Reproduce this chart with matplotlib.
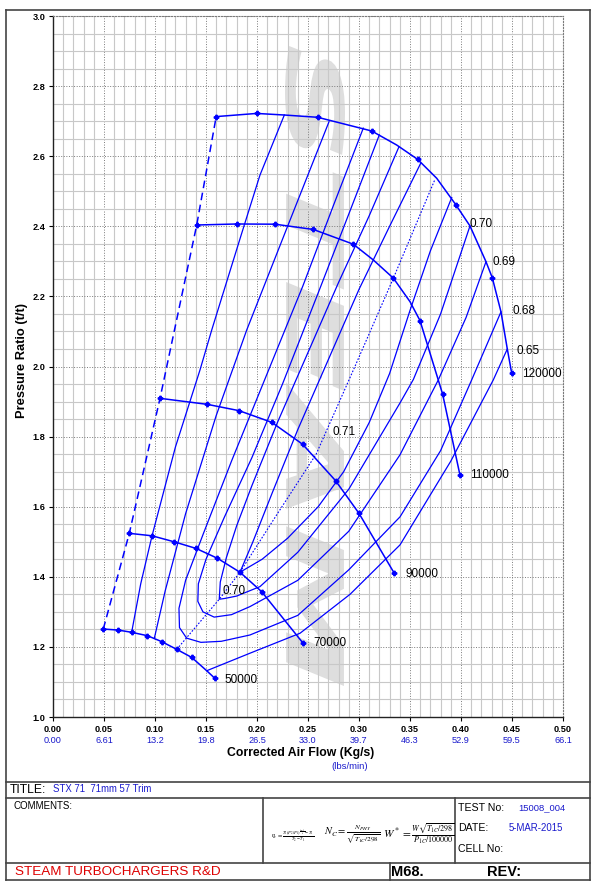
import numpy as np
import matplotlib
matplotlib.use("Agg")
import matplotlib.pyplot as plt
from matplotlib.lines import Line2D
from matplotlib.textpath import TextPath
from matplotlib.patches import PathPatch
from matplotlib.font_manager import FontProperties
from matplotlib.transforms import Affine2D

plt.rcParams['font.family'] = ['Liberation Sans', 'DejaVu Sans']
plt.rcParams['mathtext.fontset'] = 'stix'

BLUE = '#0000ff'

# speed lines (corrected flow kg/s, pressure ratio), mk = points that carry a marker
s120_x = [0.160, 0.1997, 0.2268, 0.2595, 0.3124, 0.3369, 0.3575, 0.3762, 0.3948, 0.4088, 0.4245, 0.4307, 0.4392, 0.4454, 0.4497]
s120_y = [2.713, 2.722, 2.7175, 2.711, 2.672, 2.632, 2.591, 2.537, 2.462, 2.401, 2.299, 2.253, 2.156, 2.050, 1.981]
s120_mk = [0, 1, 3, 4, 6, 8, 11, 14]

s110_x = [0.1409, 0.1801, 0.2176, 0.2552, 0.2944, 0.3140, 0.3337, 0.3500, 0.3598, 0.3820, 0.3990]
s110_y = [2.4037, 2.4066, 2.406, 2.391, 2.349, 2.304, 2.252, 2.185, 2.131, 1.921, 1.690]
s110_mk = [0, 1, 2, 3, 4, 6, 8, 9, 10]

s90_x = [0.1049, 0.1513, 0.1824, 0.2144, 0.2448, 0.2771, 0.3000, 0.3346]
s90_y = [1.9092, 1.892, 1.874, 1.8408, 1.778, 1.674, 1.581, 1.410]
s90_mk = [0, 1, 2, 3, 4, 5, 6, 7]

s70_x = [0.0748, 0.0971, 0.1186, 0.1402, 0.1611, 0.1833, 0.2046, 0.2448]
s70_y = [1.524, 1.517, 1.500, 1.481, 1.453, 1.413, 1.3575, 1.212]
s70_mk = [0, 1, 2, 3, 4, 5, 6, 7]

s50_x = [0.0493, 0.0640, 0.0771, 0.0925, 0.1066, 0.1213, 0.1360, 0.1507, 0.1588]
s50_y = [1.251, 1.248, 1.2416, 1.232, 1.215, 1.193, 1.170, 1.132, 1.110]
s50_mk = [0, 1, 2, 3, 4, 5, 6, 8]

surge_x = [0.0493, 0.0748, 0.1049, 0.1409, 0.160]
surge_y = [1.251, 1.524, 1.909, 2.4037, 2.713]

peak_x = [0.1213, 0.163, 0.1833, 0.2200, 0.2580, 0.2960, 0.3337, 0.3745]
peak_y = [1.193, 1.336, 1.413, 1.580, 1.750, 2.000, 2.252, 2.534]

# efficiency islands
eff60_x = [0.0771, 0.0860, 0.0971, 0.1200, 0.1441, 0.1556, 0.1850, 0.2029, 0.2268]
eff60_y = [1.2416, 1.380, 1.517, 1.770, 1.990, 2.104, 2.380, 2.546, 2.7175]

eff65a_x = [0.0993, 0.1100, 0.1300, 0.1600, 0.1899, 0.2300, 0.2706]
eff65a_y = [1.224, 1.360, 1.580, 1.860, 2.104, 2.400, 2.6984]
eff65b_x = [0.1507, 0.1931, 0.2422, 0.2912, 0.3402, 0.3900, 0.4317, 0.4454]
eff65b_y = [1.132, 1.182, 1.239, 1.350, 1.491, 1.730, 1.962, 2.050]

eff68_x = [0.3042, 0.2750, 0.2450, 0.2100, 0.1750, 0.1470, 0.1300, 0.1235, 0.1240, 0.1310, 0.1450, 0.1650,
           0.1931, 0.2400, 0.2900, 0.3402, 0.3800, 0.4105, 0.4392]
eff68_y = [2.680, 2.460, 2.230, 1.980, 1.730, 1.520, 1.390, 1.310, 1.255, 1.225, 1.213, 1.216,
           1.234, 1.290, 1.420, 1.571, 1.760, 1.962, 2.156]

eff69_x = [0.3199, 0.2920, 0.2600, 0.2250, 0.1950, 0.1680, 0.1500, 0.1425, 0.1420, 0.1470, 0.1580, 0.1750,
           0.1931, 0.2400, 0.2900, 0.3402, 0.3778, 0.4050, 0.4245]
eff69_y = [2.6605, 2.450, 2.210, 1.950, 1.740, 1.570, 1.450, 1.380, 1.330, 1.300, 1.285, 1.292,
           1.315, 1.390, 1.530, 1.748, 1.962, 2.140, 2.299]

eff70_x = [0.3392, 0.3100, 0.2800, 0.2500, 0.2200, 0.1950, 0.1800, 0.1700, 0.1640, 0.1630, 0.1680, 0.1800,
           0.2029, 0.2400, 0.2900, 0.3402, 0.3533, 0.3800, 0.4088]
eff70_y = [2.627, 2.430, 2.240, 2.040, 1.840, 1.660, 1.545, 1.455, 1.385, 1.336, 1.338, 1.345,
           1.372, 1.470, 1.650, 1.896, 1.963, 2.150, 2.401]

eff71_x = [0.3605, 0.3300, 0.3000, 0.2700, 0.2400, 0.2150, 0.1960, 0.1833, 0.2050, 0.2300, 0.2600, 0.2850,
           0.3100, 0.3300, 0.3500, 0.3700, 0.3909]
eff71_y = [2.580, 2.400, 2.220, 2.020, 1.820, 1.640, 1.500, 1.413, 1.450, 1.510, 1.600, 1.700,
           1.840, 1.980, 2.160, 2.330, 2.482]

speed_labels = ['50000', '70000', '90000', '110000', '120000']
speed_lab_x = [0.1686, 0.2549, 0.3451, 0.4088, 0.4598]
speed_lab_y = [1.1056, 1.211, 1.408, 1.690, 1.979]

eff_labels = ['0.70', '0.69', '0.68', '0.65', '0.71', '0.70']
eff_lab_x = [0.4088, 0.4310, 0.4503, 0.4540, 0.2739, 0.1660]
eff_lab_y = [2.4066, 2.299, 2.158, 2.045, 1.814, 1.360]

x_ticks = [0.00, 0.05, 0.10, 0.15, 0.20, 0.25, 0.30, 0.35, 0.40, 0.45, 0.50]
lbs_labels = ['0.00', '6.61', '13.2', '19.8', '26.5', '33.0', '39.7', '46.3', '52.9', '59.5', '66.1']
y_ticks = [1.0, 1.2, 1.4, 1.6, 1.8, 2.0, 2.2, 2.4, 2.6, 2.8, 3.0]

W, H = 609, 896
def fx(px):
    return px / W
def fy(py):
    return 1 - py / H

fig = plt.figure(figsize=(W / 100, H / 100), dpi=100)
ax = fig.add_axes([fx(53), fy(717), fx(563) - fx(53), fy(16) - fy(717)])

ax.set_xlim(0, 0.5)
ax.set_ylim(1.0, 3.0)
ax.set_xticks(x_ticks)
ax.set_xticks(np.arange(0, 0.5001, 0.01), minor=True)
ax.set_yticks(y_ticks)
ax.set_yticks(np.arange(1.0, 3.0001, 0.05), minor=True)
ax.set_xticklabels(['%.2f' % v for v in x_ticks], fontsize=6.6, fontweight='bold')
ax.set_yticklabels(['%.1f' % v for v in y_ticks], fontsize=6.6, fontweight='bold')
ax.tick_params(which='major', direction='out', length=3, width=0.8, pad=2.5)
ax.tick_params(which='minor', length=0)
ax.grid(which='minor', color='#c8c8c8', lw=0.8, ls='-')
ax.grid(which='major', color='#7a7a7a', lw=0.7, ls=':')
ax.set_axisbelow(True)
for s in ['top', 'right']:
    ax.spines[s].set_linestyle(':')
    ax.spines[s].set_color('#7a7a7a')
    ax.spines[s].set_linewidth(0.8)
for s in ['left', 'bottom']:
    ax.spines[s].set_color('#222222')
    ax.spines[s].set_linewidth(1.0)

for v, lab in zip(x_ticks, lbs_labels):
    ax.annotate(lab, xy=(v, 0), xycoords=('data', 'axes fraction'), xytext=(0, -17.0),
                textcoords='offset points', ha='center', va='center', fontsize=6.6, color='#1a1acc')

# watermark
tp = TextPath((0, 0), 'STEAM', size=100,
              prop=FontProperties(family='DejaVu Sans', weight='bold', style='italic'))
bb = tp.get_extents()
tr = (Affine2D().translate(-bb.x0, -bb.y0).scale(640 / bb.width, 60 / bb.height)
      .rotate_deg(-90).translate(285, H - 46))
wm = PathPatch(tp, transform=tr, facecolor='#dedede', edgecolor='none', zorder=0.3)
ax.add_patch(wm)

# surge and peak efficiency lines
ax.plot(surge_x, surge_y, color=BLUE, lw=1.1, ls=(0, (5, 3)), zorder=3)
ax.plot(peak_x, peak_y, color=BLUE, lw=0.8, ls=(0, (1.5, 1.5)), zorder=3)

for xs, ys in [(eff60_x, eff60_y), (eff65a_x, eff65a_y), (eff65b_x, eff65b_y), (eff68_x, eff68_y),
               (eff69_x, eff69_y), (eff70_x, eff70_y), (eff71_x, eff71_y)]:
    ax.plot(xs, ys, color=BLUE, lw=0.9, zorder=3)

for xs, ys, mk in [(s50_x, s50_y, s50_mk), (s70_x, s70_y, s70_mk), (s90_x, s90_y, s90_mk),
                   (s110_x, s110_y, s110_mk), (s120_x, s120_y, s120_mk)]:
    ax.plot(xs, ys, color=BLUE, lw=1.1, marker='P', ms=3.2, markevery=mk, zorder=4)

for lab, x, y in zip(speed_labels, speed_lab_x, speed_lab_y):
    ax.text(x, y, lab, fontsize=8.5, ha='left', va='center', color='black', zorder=5)
for lab, x, y in zip(eff_labels, eff_lab_x, eff_lab_y):
    ax.text(x, y, lab, fontsize=8.5, ha='left', va='center', color='black', zorder=5)

fig.text(fx(301), fy(753), 'Corrected Air Flow (Kg/s)', fontsize=8.8, fontweight='bold', ha='center', va='center')
fig.text(fx(350), fy(766), '(lbs/min)', fontsize=6.8, color='#1a1acc', ha='center', va='center')
fig.text(fx(22), fy(360), 'Pressure Ratio (t/t)', fontsize=9.3, fontweight='bold', rotation=90, ha='center', va='center')

# frame and footer boxes
def fline(x0, y0, x1, y1, lw=1.2, c='#444444'):
    fig.add_artist(Line2D([fx(x0), fx(x1)], [fy(y0), fy(y1)], color=c, lw=lw))

fline(6, 10, 590, 10)
fline(6, 10, 6, 880)
fline(590, 10, 590, 880)
fline(6, 880, 590, 880)
fline(6, 782, 590, 782)
fline(6, 798, 590, 798)
fline(6, 863, 590, 863)
fline(263, 798, 263, 863)
fline(455, 798, 455, 863)
fline(390, 863, 390, 880)

fig.text(fx(10), fy(790), 'TITLE:', fontsize=8.7, va='center', ha='left')
fig.text(fx(53), fy(789), 'STX 71  71mm 57 Trim', fontsize=6.9, color='#1a1acc', va='center', ha='left')
fig.text(fx(14), fy(806), 'COMMENTS:', fontsize=7.0, va='center', ha='left')
fig.text(fx(458), fy(808), 'TEST No:', fontsize=7.6, va='center', ha='left')
fig.text(fx(518), fy(808), '15008_004', fontsize=6.8, color='#1a1acc', va='center', ha='left')
fig.text(fx(458), fy(828), 'DATE:', fontsize=7.6, va='center', ha='left')
fig.text(fx(509), fy(828), '5-MAR-2015', fontsize=6.9, color='#1a1acc', va='center', ha='left')
fig.text(fx(458), fy(849), 'CELL No:', fontsize=7.6, va='center', ha='left')
fig.text(fx(15), fy(872), 'STEAM TURBOCHARGERS R&D', fontsize=9.7, color='#dd0000', va='center', ha='left')
fig.text(fx(391), fy(872), 'M68.', fontsize=10.5, fontweight='bold', va='center', ha='left')
fig.text(fx(487), fy(872), 'REV:', fontsize=10.5, fontweight='bold', va='center', ha='left')

fig.text(fx(293), fy(836), r'$\eta_c=\frac{T_1(P_2/P_1)^{\frac{k-1}{k}}-T_1}{T_2-T_1}$', fontsize=4.5, ha='center', va='center')
fig.text(fx(352), fy(835), r'$N_C=\frac{N_{PHY}}{\sqrt{T_{1C}/298}}$', fontsize=7.5, ha='center', va='center')
fig.text(fx(419), fy(834), r'$W^*=\frac{W\sqrt{T_{1C}/298}}{P_{1C}/100000}$', fontsize=8.2, ha='center', va='center')

fig.savefig('out.png', dpi=100)
